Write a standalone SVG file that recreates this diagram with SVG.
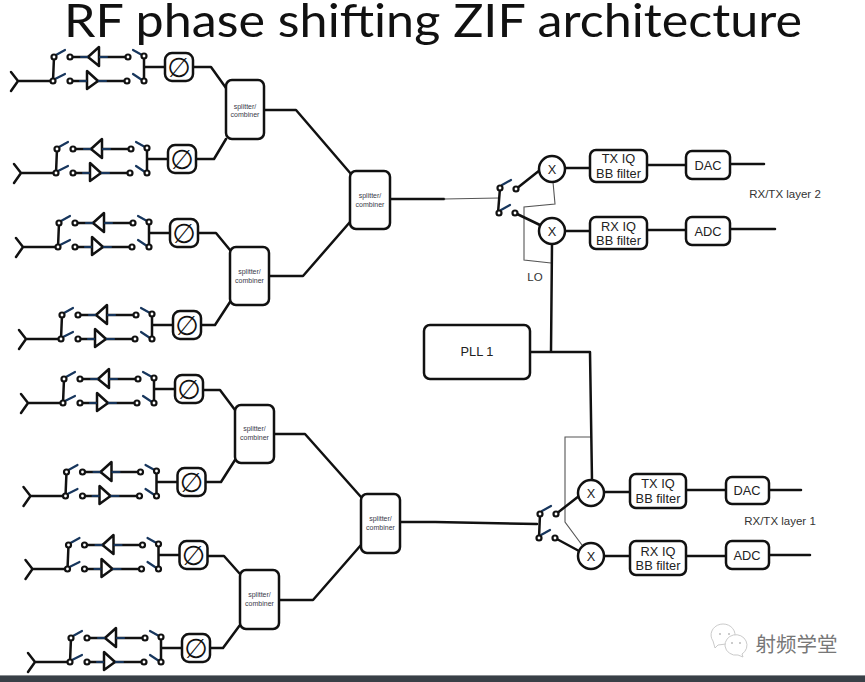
<svg xmlns="http://www.w3.org/2000/svg" xmlns:xlink="http://www.w3.org/1999/xlink" width="865" height="682" viewBox="0 0 865 682">
<style>
text{font-family:"Liberation Sans",Arial,sans-serif;fill:#222;text-anchor:middle}
.w{fill:none;stroke:#111;stroke-width:2.5;stroke-linejoin:round;stroke-linecap:round}
.n{fill:none;stroke:#17365d;stroke-width:2.2;stroke-linecap:round}
.thin{fill:none;stroke:#555;stroke-width:1.1}
.d{fill:#fff;stroke:#111;stroke-width:2.2}
.b{fill:#fff;stroke:#111;stroke-width:2.5}
.s{font-size:7px;fill:#3a3a4a}
.m{font-size:12.800px}
.l{font-size:11.500px;fill:#333}
.p{font-family:"DejaVu Sans",sans-serif;font-size:27px;fill:#111}
.wm{fill:#fff;stroke:#c4c4c4;stroke-width:.9}
</style>
<defs>
<g id="chain">
<path class="w" d="M11 72L18 81L11 91M18 81H53M54 57L53 81M144 56V81M144 67H165"/>
<path class="w" d="M72 57H88M99 57H126M72 81H87M98 81H125"/>
<path class="w" style="fill:#fff" d="M88 57L99 47V66ZM87 71V89L98 81Z"/>
<path class="n" d="M56 55L65 50M55 79L65 74M133 50L142 55M133 74L142 80M81 57H87M100 57H107M80 81H86M99 81H106"/>
<circle class="d" cx="54" cy="57" r="2.500"/><circle class="d" cx="53" cy="81" r="2.500"/>
<circle class="d" cx="70" cy="57" r="2.500"/><circle class="d" cx="70" cy="81" r="2.500"/>
<circle class="d" cx="128" cy="57" r="2.500"/><circle class="d" cx="127" cy="81" r="2.500"/>
<circle class="d" cx="144" cy="56" r="2.500"/><circle class="d" cx="144" cy="81" r="2.500"/>
<rect class="b" x="165" y="53" width="28" height="28" rx="7"/>
</g>
</defs>

<rect width="865" height="682" fill="#fff"/>
<text id="title" x="433" y="37" style="font-family:Lato,'Liberation Sans',sans-serif;font-size:46px;fill:#111" textLength="738" lengthAdjust="spacingAndGlyphs">RF phase shifting ZIF architecture</text>

<g id="connectors">
<path class="w" d="M193 67H211L226 88M197 159H214L226 139M264 110H296L351 174"/>
<path class="w" d="M199 233H216L230 250M201 325H215L230 302M269 276H303L350 222"/>
<path class="w" d="M203 390H220L235 410M206 482H221L235 460M274 434H305L361 497"/>
<path class="w" d="M208 556H224L240 574M211 648H223L240 625M279 600H313L361 545"/>
<path class="w" d="M390 199H444M400 522H435L537 524"/>
<path class="thin" d="M444 199L499 198"/>
<path class="thin" d="M553 182L555 204L524 207V260L551 263"/>
<path class="thin" d="M591 437H565V522L582 545"/>
<path class="w" d="M516 189L540 170M515 213L540 225"/>
<path class="w" d="M556 514L579 496M555 538L579 551"/>
<path class="w" d="M552 244L551 352M530 352H590L592 481"/>
<path class="w" d="M565 168H590M647 165H686M730 164H764M565 231H590M647 230H686M730 229H775"/>
<path class="w" d="M604 492H630M687 490H726M769 490H801M604 556H630M687 556H726M769 555H810"/>
</g>

<g id="branch1"><use href="#chain"/><text class="p" x="179" y="77">∅</text></g>
<g id="branch2" transform="translate(3 92)"><use href="#chain"/><text class="p" x="179" y="77">∅</text></g>
<g id="branch3" transform="translate(5 166)"><use href="#chain"/><text class="p" x="179" y="77">∅</text></g>
<g id="branch4" transform="translate(8 258)"><use href="#chain"/><text class="p" x="179" y="77">∅</text></g>
<g id="branch5" transform="translate(10 322)"><use href="#chain"/><text class="p" x="179" y="77">∅</text></g>
<g id="branch6" transform="translate(12.500 415)"><use href="#chain"/><text class="p" x="179" y="77">∅</text></g>
<g id="branch7" transform="translate(14.500 488)"><use href="#chain"/><text class="p" x="179" y="77">∅</text></g>
<g id="branch8" transform="translate(17 581)"><use href="#chain"/><text class="p" x="179" y="77">∅</text></g>

<g id="splitter1"><rect class="b" x="226" y="80" width="38" height="59" rx="6"/><text class="s" x="245" y="109">splitter/</text><text class="s" x="245" y="117">combiner</text></g>
<g id="splitter2"><rect class="b" x="230" y="247" width="39" height="58" rx="6"/><text class="s" x="249.500" y="274">splitter/</text><text class="s" x="249.500" y="283">combiner</text></g>
<g id="splitter3"><rect class="b" x="350" y="171" width="40" height="58" rx="6"/><text class="s" x="370" y="198">splitter/</text><text class="s" x="370" y="207">combiner</text></g>
<g id="splitter4"><rect class="b" x="235" y="405" width="39" height="58" rx="6"/><text class="s" x="254.500" y="431">splitter/</text><text class="s" x="254.500" y="440">combiner</text></g>
<g id="splitter5"><rect class="b" x="240" y="570" width="39" height="59" rx="6"/><text class="s" x="259.500" y="597">splitter/</text><text class="s" x="259.500" y="606">combiner</text></g>
<g id="splitter6"><rect class="b" x="361" y="494" width="39" height="59" rx="6"/><text class="s" x="380.500" y="521">splitter/</text><text class="s" x="380.500" y="530">combiner</text></g>

<g id="switch-upper">
<path class="w" d="M500 188L498 213"/>
<path class="n" d="M502 185L511 180M501 210L510 205"/>
<circle class="d" cx="500" cy="188" r="2.500"/><circle class="d" cx="499" cy="213" r="2.500"/>
<circle class="d" cx="516" cy="189" r="2.500"/><circle class="d" cx="515" cy="213" r="2.500"/>
</g>
<g id="switch-lower">
<path class="w" d="M540 514L539 538"/>
<path class="n" d="M542 511L551 506M541 535L550 530"/>
<circle class="d" cx="540" cy="514" r="2.500"/><circle class="d" cx="539" cy="538" r="2.500"/>
<circle class="d" cx="556" cy="514" r="2.500"/><circle class="d" cx="555" cy="538" r="2.500"/>
</g>

<g id="mixer1"><circle class="b" cx="552" cy="169" r="13"/><text class="m" x="552" y="174">X</text></g>
<g id="mixer2"><circle class="b" cx="552" cy="231" r="13"/><text class="m" x="552" y="236">X</text></g>
<g id="mixer3"><circle class="b" cx="591" cy="493" r="13"/><text class="m" x="591" y="498">X</text></g>
<g id="mixer4"><circle class="b" cx="591" cy="556" r="13"/><text class="m" x="591" y="561">X</text></g>

<g id="txfilter2"><rect class="b" x="590" y="150" width="57" height="32" rx="6"/><text class="m" x="618.500" y="163">TX IQ</text><text class="m" x="618.500" y="178">BB filter</text></g>
<g id="rxfilter2"><rect class="b" x="590" y="217" width="57" height="32" rx="6"/><text class="m" x="618.500" y="231">RX IQ</text><text class="m" x="618.500" y="245">BB filter</text></g>
<g id="dac2"><rect class="b" x="686" y="151" width="44" height="28" rx="6"/><text class="m" x="708" y="170">DAC</text></g>
<g id="adc2"><rect class="b" x="686" y="217" width="44" height="28" rx="6"/><text class="m" x="708" y="236">ADC</text></g>

<g id="txfilter1"><rect class="b" x="630" y="474" width="56" height="34" rx="6"/><text class="m" x="658" y="488">TX IQ</text><text class="m" x="658" y="503">BB filter</text></g>
<g id="rxfilter1"><rect class="b" x="630" y="541" width="56" height="34" rx="6"/><text class="m" x="658" y="556">RX IQ</text><text class="m" x="658" y="570">BB filter</text></g>
<g id="dac1"><rect class="b" x="726" y="477" width="43" height="27" rx="6"/><text class="m" x="747" y="495">DAC</text></g>
<g id="adc1"><rect class="b" x="726" y="541" width="43" height="28" rx="6"/><text class="m" x="747" y="560">ADC</text></g>

<g id="pll"><rect class="b" x="424" y="325" width="106" height="54" rx="6"/><text class="m" x="477" y="356">PLL 1</text></g>

<text class="l" x="785" y="198">RX/TX layer 2</text>
<text class="l" x="780" y="525">RX/TX layer 1</text>
<text class="l" x="535" y="281">LO</text>

<g id="watermark">
<path class="wm" d="M713 641a12 11 0 1 1 22 -5l-9 8l-8 1l-3 3z"/>
<path class="wm" d="M725 646a11 10.500 0 1 1 17 8l1 3l-5 -2a11 10.500 0 0 1 -13 -9z"/>
<g fill="#bbb"><circle cx="720" cy="634" r="1"/><circle cx="729" cy="634" r="1"/><circle cx="732" cy="643" r="1"/><circle cx="740" cy="643" r="1"/></g>
<text x="796.500" y="652" style="font-family:'Noto Sans CJK SC',sans-serif;font-size:20.500px;fill:#777">射频学堂</text>
</g>
<rect id="bar" y="676" width="865" height="6" fill="#394047"/>
<rect y="675" width="865" height="1" fill="#8a8e92"/>
</svg>
